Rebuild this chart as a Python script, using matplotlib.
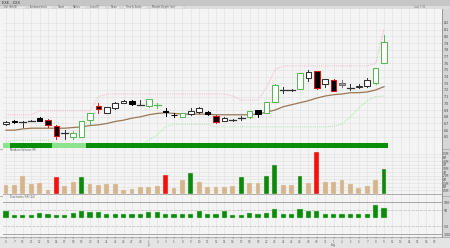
"""Daily candlestick chart with volume and oscillator panels -> out.png (450x248)."""

import matplotlib

matplotlib.use("Agg")
import matplotlib.pyplot as plt
from matplotlib.patches import Rectangle

W, H = 450, 248

# price data per session
opens = [6.69, 6.74, 6.72, 6.74, 6.78, 6.75, 6.66, 6.56, 6.50, 6.50,
         6.75, 6.96, 6.86, 6.93, 7.01, 7.04, 6.98, 6.96, 6.98, 6.88,
         6.83, 6.80, 6.84, 6.87, 6.87, 6.81, 6.74, 6.75, 6.78, 6.80,
         6.90, 6.86, 7.02, 7.20, 7.20, 7.22, 7.38, 7.48, 7.29, 7.35,
         7.30, 7.23, 7.25, 7.26, 7.30, 7.60]
highs = [6.74, 6.75, 6.74, 6.75, 6.80, 6.76, 6.68, 6.60, 6.59, 6.74,
         6.86, 7.01, 6.95, 7.02, 7.05, 7.05, 7.05, 7.07, 7.01, 6.93,
         6.86, 6.86, 6.93, 6.95, 6.88, 6.82, 6.79, 6.77, 6.81, 6.89,
         6.90, 7.02, 7.29, 7.24, 7.22, 7.45, 7.50, 7.49, 7.37, 7.37,
         7.35, 7.29, 7.29, 7.38, 7.53, 8.02]
lows = [6.68, 6.71, 6.65, 6.73, 6.73, 6.65, 6.47, 6.47, 6.47, 6.50,
        6.68, 6.86, 6.85, 6.92, 7.00, 6.98, 6.97, 6.95, 6.93, 6.81,
        6.80, 6.80, 6.83, 6.86, 6.83, 6.71, 6.73, 6.74, 6.75, 6.78,
        6.80, 6.85, 7.02, 7.16, 7.18, 7.21, 7.33, 7.22, 7.25, 7.18,
        7.25, 7.20, 7.23, 7.25, 7.29, 7.60]
closes = [6.72, 6.72, 6.72, 6.74, 6.74, 6.68, 6.51, 6.56, 6.56, 6.74,
          6.86, 6.92, 6.94, 7.01, 7.04, 6.99, 6.98, 7.07, 6.98, 6.87,
          6.82, 6.86, 6.89, 6.93, 6.84, 6.72, 6.78, 6.75, 6.78, 6.89,
          6.84, 7.02, 7.27, 7.20, 7.20, 7.45, 7.47, 7.23, 7.36, 7.19,
          7.28, 7.23, 7.26, 7.35, 7.53, 7.92]
# candle highlight: g = bullish signal, r = bearish signal, s = neutral, n = none
signal = ["n", "n", "n", "n", "n", "r", "r", "n", "g", "g",
          "g", "r", "n", "n", "n", "n", "n", "g", "g", "n",
          "n", "g", "n", "n", "n", "r", "n", "n", "n", "g",
          "n", "g", "g", "n", "n", "g", "n", "r", "n", "r",
          "s", "n", "n", "n", "g", "g"]
ma = [6.60, 6.60, 6.62, 6.63, 6.63, 6.63, 6.63, 6.63, 6.64, 6.65,
      6.67, 6.68, 6.70, 6.73, 6.75, 6.78, 6.80, 6.83, 6.85, 6.86,
      6.85, 6.84, 6.84, 6.84, 6.84, 6.83, 6.83, 6.83, 6.83, 6.83,
      6.84, 6.87, 6.90, 6.95, 6.98, 7.01, 7.04, 7.08, 7.11, 7.13,
      7.14, 7.16, 7.16, 7.17, 7.20, 7.25]
band_up = [6.83, 6.83, 6.83, 6.83, 6.89, 6.89, 6.89, 6.89, 6.89, 6.89,
           6.89, 7.10, 7.14, 7.14, 7.14, 7.14, 7.14, 7.14, 7.14, 7.14,
           7.14, 7.14, 7.14, 7.14, 7.14, 7.14, 7.14, 7.11, 7.05, 7.05,
           7.05, 7.23, 7.50, 7.56, 7.56, 7.56, 7.56, 7.56, 7.56, 7.56,
           7.56, 7.56, 7.56, 7.56, 7.59, 8.11]
band_lo = [6.42, 6.45, 6.45, 6.45, 6.45, 6.45, 6.41, 6.38, 6.38, 6.38,
           6.38, 6.38, 6.38, 6.38, 6.38, 6.38, 6.38, 6.45, 6.53, 6.65,
           6.69, 6.69, 6.69, 6.69, 6.69, 6.65, 6.65, 6.65, 6.65, 6.65,
           6.65, 6.65, 6.65, 6.65, 6.65, 6.65, 6.65, 6.65, 6.65, 6.66,
           6.69, 6.80, 6.93, 7.04, 7.10, 7.11]
trend = [0, 1, 1, 1, 1, 1, 0, 0, 0, 0,
         1, 1, 1, 1, 1, 1, 1, 1, 1, 1,
         1, 1, 1, 1, 1, 1, 1, 1, 1, 1,
         1, 1, 1, 1, 1, 1, 1, 1, 1, 1,
         1, 1, 1, 1, 1, 1]

# volume (millions) and spike flags
volume = [1.27, 1.23, 2.41, 1.41, 1.55, 0.59, 2.32, 1.05, 1.59, 2.36,
          1.41, 1.27, 1.41, 1.41, 0.55, 0.73, 0.91, 0.95, 1.05, 2.64,
          0.77, 1.86, 2.86, 1.64, 1.00, 0.91, 1.00, 1.14, 2.32, 1.55,
          1.45, 2.50, 3.91, 1.27, 1.27, 2.50, 1.50, 5.73, 1.64, 1.68,
          1.95, 1.32, 0.86, 1.14, 1.86, 3.36]
vol_flag = ["", "", "", "", "", "", "d", "", "", "u",
            "", "", "", "", "", "", "", "", "", "d",
            "", "", "u", "", "", "", "", "", "u", "",
            "", "u", "u", "", "", "u", "", "d", "", "",
            "", "", "", "", "", "u"]

osc = [42, 19, 19, 21, 31, 23, 19, 19, 31, 46,
       35, 40, 25, 25, 25, 25, 27, 38, 35, 27,
       25, 27, 23, 44, 23, 23, 46, 19, 19, 31,
       23, 31, 54, 25, 25, 54, 44, 46, 25, 25,
       25, 25, 25, 25, 79, 60]

days = ["6", "7", "10", "11", "12", "13", "14", "17", "18", "19",
        "20", "21", "24", "25", "26", "27", "28", "1", "2", "3",
        "5", "8", "9", "10", "11", "12", "15", "16", "17", "18",
        "19", "22", "23", "24", "25", "26", "29", "30", "31", "1",
        "2", "5", "6", "7", "8", "9", "12", "13", "14", "15",
        "16", "19"]
months = {17: "Jul", 39: "Aug"}
price_ticks = [8.2, 8.1, 8.0, 7.9, 7.8, 7.7, 7.6, 7.5, 7.4, 7.3,
               7.2, 7.1, 7.0, 6.9, 6.8, 6.7, 6.6, 6.5]
vol_ticks = [0.5, 1.0, 1.5, 2.0, 2.5, 3.0, 3.5, 4.0, 4.5, 5.0, 5.5]
osc_ticks = [100, 50, -50, -100]

BG = "#f4f4f4"
GRID = "#e3e3e3"
n = len(closes)
xs = list(range(n))
X0, X1 = 3, 442
STEP = 8.4
XLIM = ((X0 - 6) / STEP, (X1 - 6) / STEP)


def box(x0, y0, x1, y1):
    return [x0 / W, 1 - y1 / H, (x1 - x0) / W, (y1 - y0) / H]


fig = plt.figure(figsize=(W / 100, H / 100), dpi=100)
fig.patch.set_facecolor(BG)

bg = fig.add_axes([0, 0, 1, 1])
bg.set_xlim(0, W)
bg.set_ylim(H, 0)
bg.axis("off")
bg.add_patch(Rectangle((0, 0), W, 5.5, color="#c6c6c6", lw=0))
bg.add_patch(Rectangle((0, 5.5), W, 3.5, color="#dcdcdc", lw=0))
bg.add_patch(Rectangle((0, 237), W, 11, color="#e4e4e4", lw=0))
bg.add_patch(Rectangle((X1, 9), W - X1, 228, color="#d6d6d6", lw=0))
bg.text(2, 2.8, "EXE - XXX", fontsize=2.6, va="center", color="#333")
tabs = ["Vol (Stk B)", "Fundamentals", "Chart", "Ratios", "Level II",
        "News", "Time & Sales", "Market Depth (ms)"]
tx = 3
for t in tabs:
    w = 4 + len(t) * 1.7
    bg.add_patch(Rectangle((tx, 5.8), w, 3, fc="#e8e8e8", ec="#b8b8b8", lw=0.3))
    bg.text(tx + 1.5, 7.3, t, fontsize=1.8, va="center", color="#555")
    tx += w + 3
bg.text(425, 7.3, "Last 7.92", fontsize=1.8, va="center", ha="right", color="#777")
for y in (149, 196, 237):
    bg.plot([0, W], [y, y], color="#a8a8a8", lw=0.6)
bg.plot([X1, X1], [9, 237], color="#8c8c8c", lw=0.6)
bg.plot([2.5, 2.5], [9, 237], color="#b0b0b0", lw=0.5)


def panel(rect, ylim):
    ax = fig.add_axes(box(*rect))
    ax.set_facecolor(BG)
    ax.set_xlim(*XLIM)
    ax.set_ylim(*ylim)
    for s in ax.spines.values():
        s.set_visible(False)
    ax.set_xticks(range(0, len(days)))
    ax.tick_params(axis="x", length=0, labelbottom=False)
    ax.yaxis.tick_right()
    ax.tick_params(axis="y", length=0, labelsize=2.3, pad=1.0, colors="#444")
    ax.grid(True, color=GRID, lw=0.5)
    ax.set_axisbelow(True)
    return ax


# main price panel
ax = panel((X0, 9, X1, 149), (8.2 - 126 / 67, 8.2 + 14 / 67))
ax.set_yticks(price_ticks)
ax.set_yticklabels([f"{v:.1f}" for v in price_ticks])
ax.plot(xs, band_up, color="#f0b4bf", lw=0.7, ls=(0, (1, 1.2)))
ax.plot(xs, band_lo, color="#a6e6a6", lw=0.7, ls=(0, (1, 1.2)))
ax.plot(xs, ma, color="#9a7656", lw=0.9)
for i in xs:
    o, h, l, c, s = opens[i], highs[i], lows[i], closes[i], signal[i]
    up = c >= o
    if s == "g":
        edge, fill = "#58b858", "white"
    elif s == "r":
        edge, fill = "#e01010", "black"
    elif s == "s":
        edge, fill = "#707070", "#a0a0a0"
    else:
        edge, fill = ("#303030", "white") if up else ("black", "black")
    ax.plot([i, i], [l, h], color=edge, lw=0.7, zorder=3)
    if abs(c - o) < 0.005:
        ax.plot([i - 0.4, i + 0.4], [o, o], color=edge, lw=0.9, zorder=4)
    else:
        ax.add_patch(Rectangle((i - 0.34, min(o, c)), 0.68, abs(c - o),
                               fc=fill, ec=edge, lw=0.75, zorder=4))
strip_cols = ["#8ee48e" if t == 0 else "#0b8f0b" for t in trend]
ax.bar(xs, 0.036, bottom=0.007, width=1.0, color=strip_cols,
       transform=ax.get_xaxis_transform(), zorder=5, lw=0)
ax.text(0.5, 1 - 3 / 140, "Main (D)", transform=ax.get_yaxis_transform(),
        fontsize=1.9, va="top", color="#555",
        bbox=dict(fc="#f8f0e0", ec="#c8b898", lw=0.3, pad=0.4))

# volume panel
PX_M = 7.33
av = panel((X0, 149, X1, 196), (-2 / PX_M, 45 / PX_M))
vcols = {"": "#d4b58e", "d": "#f41010", "u": "#0b8a0b"}
av.bar(xs, volume, width=0.55, color=[vcols[f] for f in vol_flag],
       edgecolor="#ece0d0", lw=0.3, zorder=3)
av.axhline(0, color="#a0a0a0", lw=0.6)
av.set_yticks(vol_ticks)
av.set_yticklabels([f"{v:g}M" for v in vol_ticks])
av.tick_params(axis="y", labelsize=1.9, pad=0.5)
av.text(0.5, 44 / PX_M, "Medium Volume (M)", fontsize=1.9, va="center", color="#555")

# oscillator panel
ao = panel((X0, 196, X1, 237), (-19 * 6.25, 22 * 6.25))
ao.bar(xs, osc, width=0.62, color="#0b8a0b", edgecolor="#bfe6bf", lw=0.3, zorder=3)
for lv in (100, -100):
    ao.axhline(lv, color="#a6a6a6", lw=0.7)
for lv in (50, -50):
    ao.axhline(lv, color="#c8c8c8", lw=0.6, ls=(0, (3, 2)))
ao.set_yticks(osc_ticks)
ao.set_yticklabels([str(v) for v in osc_ticks])
ao.text(0.5, 21 * 6.25, "Stochastic %R (14)", fontsize=1.9, va="center", color="#555")
ao.tick_params(axis="x", labelbottom=True, length=1.2, width=0.3, pad=0.8,
               labelsize=2.0, colors="#666")
ao.set_xticklabels(days)
for i, m in months.items():
    ao.text(i, -0.15, m, transform=ao.get_xaxis_transform(), fontsize=1.9,
            ha="center", va="top", color="#666")

fig.savefig("out.png", dpi=100, facecolor=fig.get_facecolor())
